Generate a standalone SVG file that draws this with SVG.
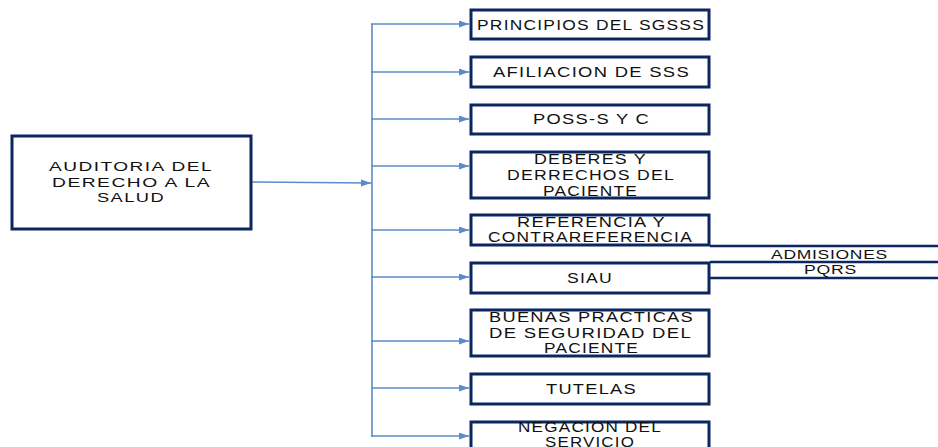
<svg xmlns="http://www.w3.org/2000/svg" width="938" height="447" viewBox="0 0 938 447">
<style>
.box{fill:#fff;stroke:#0c2660;stroke-width:3}
.t{font-family:"Liberation Sans",Arial,sans-serif;font-size:14px;fill:#111;letter-spacing:1px}
.ts{font-family:"Liberation Sans",Arial,sans-serif;font-size:12px;fill:#111;letter-spacing:0.5px}
.c{stroke:#5b8bc9;stroke-width:1.6;fill:none}
.r{stroke:#0c2660;stroke-width:2.5}
</style>
<defs>
<marker id="ah" markerUnits="userSpaceOnUse" markerWidth="11" markerHeight="8" refX="10" refY="3.5" orient="auto">
<path d="M0,0 L10,3.5 L0,7 z" fill="#5b8bc9"/>
</marker>
</defs>
<rect width="938" height="447" fill="#fff"/>
<g id="connectors">
<line class="c" x1="372" y1="24" x2="372" y2="437"/>
<line class="c" x1="252" y1="182" x2="371" y2="183" marker-end="url(#ah)"/>
<line class="c" x1="371" y1="24" x2="469" y2="24" marker-end="url(#ah)"/>
<line class="c" x1="371" y1="72" x2="469" y2="72" marker-end="url(#ah)"/>
<line class="c" x1="371" y1="119" x2="469" y2="119" marker-end="url(#ah)"/>
<line class="c" x1="371" y1="166" x2="469" y2="166" marker-end="url(#ah)"/>
<line class="c" x1="371" y1="230" x2="469" y2="230" marker-end="url(#ah)"/>
<line class="c" x1="371" y1="277" x2="469" y2="277" marker-end="url(#ah)"/>
<line class="c" x1="371" y1="341" x2="469" y2="341" marker-end="url(#ah)"/>
<line class="c" x1="371" y1="388" x2="469" y2="388" marker-end="url(#ah)"/>
<line class="c" x1="371" y1="436" x2="469" y2="436" marker-end="url(#ah)"/>
</g>
<g id="siau-lines">
<line class="r" x1="710" y1="246" x2="938" y2="246"/>
<line class="r" x1="710" y1="262" x2="938" y2="262"/>
<line class="r" x1="710" y1="278" x2="938" y2="278"/>
<text class="ts" x="771" y="259" textLength="117" lengthAdjust="spacingAndGlyphs">ADMISIONES</text>
<text class="ts" x="804" y="274" textLength="53" lengthAdjust="spacingAndGlyphs">PQRS</text>
</g>
<g id="n0">
<rect class="box" x="12" y="136" width="239" height="93"/>
<text class="t" style="font-size:13px" x="49" y="171" textLength="164" lengthAdjust="spacingAndGlyphs">AUDITORIA DEL</text>
<text class="t" style="font-size:13px" x="52" y="187" textLength="159" lengthAdjust="spacingAndGlyphs">DERECHO A LA</text>
<text class="t" style="font-size:13px" x="97" y="202" textLength="68" lengthAdjust="spacingAndGlyphs">SALUD</text>
</g>
<g id="n1">
<rect class="box" x="471" y="10" width="238" height="29"/>
<text class="t" x="477" y="30" textLength="228" lengthAdjust="spacingAndGlyphs">PRINCIPIOS DEL SGSSS</text>
</g>
<g id="n2">
<rect class="box" x="471" y="57" width="238" height="30"/>
<text class="t" x="493" y="77" textLength="197" lengthAdjust="spacingAndGlyphs">AFILIACION DE SSS</text>
</g>
<g id="n3">
<rect class="box" x="471" y="105" width="238" height="29"/>
<text class="t" x="533" y="124" textLength="117" lengthAdjust="spacingAndGlyphs">POSS-S Y C</text>
</g>
<g id="n4">
<rect class="box" x="471" y="152" width="238" height="46"/>
<text class="t" x="534" y="164" textLength="113" lengthAdjust="spacingAndGlyphs">DEBERES Y</text>
<text class="t" x="507" y="180" textLength="168" lengthAdjust="spacingAndGlyphs">DERRECHOS DEL</text>
<text class="t" x="543" y="196" textLength="95" lengthAdjust="spacingAndGlyphs">PACIENTE</text>
</g>
<g id="n5">
<rect class="box" x="471" y="215" width="238" height="30"/>
<text class="t" x="517" y="227" textLength="149" lengthAdjust="spacingAndGlyphs">REFERENCIA Y</text>
<text class="t" x="488" y="242" textLength="205" lengthAdjust="spacingAndGlyphs">CONTRAREFERENCIA</text>
</g>
<g id="n6">
<rect class="box" x="471" y="263" width="238" height="30"/>
<text class="t" x="567" y="283" textLength="46" lengthAdjust="spacingAndGlyphs">SIAU</text>
</g>
<g id="n7">
<rect class="box" x="471" y="310" width="238" height="46"/>
<text class="t" x="489" y="322" textLength="205" lengthAdjust="spacingAndGlyphs">BUENAS PRACTICAS</text>
<text class="t" x="489" y="338" textLength="203" lengthAdjust="spacingAndGlyphs">DE SEGURIDAD DEL</text>
<text class="t" x="544" y="353" textLength="95" lengthAdjust="spacingAndGlyphs">PACIENTE</text>
</g>
<g id="n8">
<rect class="box" x="471" y="374" width="238" height="30"/>
<text class="t" x="546" y="394" textLength="91" lengthAdjust="spacingAndGlyphs">TUTELAS</text>
</g>
<g id="n9">
<rect class="box" x="471" y="422" width="238" height="40"/>
<text class="t" x="518" y="432" textLength="144" lengthAdjust="spacingAndGlyphs">NEGACION DEL</text>
<text class="t" x="545" y="447" textLength="90" lengthAdjust="spacingAndGlyphs">SERVICIO</text>
</g>
</svg>
